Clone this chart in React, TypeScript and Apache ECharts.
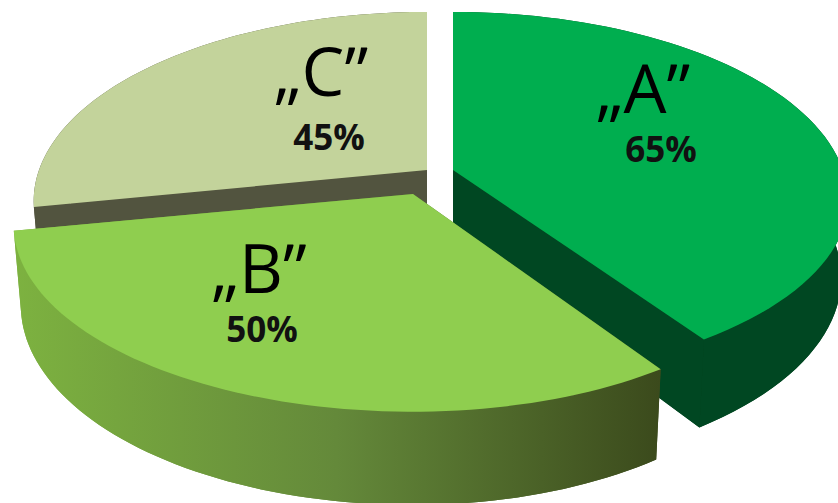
import React, { useEffect, useRef } from "react";
import * as echarts from "echarts";

const categories = ["„A”", "„B”", "„C”"];
const shareValues = [65, 50, 45];

// Styles and layout, per slice
const topColors = ["#00AE4F", "#8FCE4F", "#C3D39B"];
const wallColors: any[] = [
  "#004722",
  new echarts.graphic.LinearGradient(14, 0, 660, 0, [
    { offset: 0, color: "#7DB240" },
    { offset: 0.5, color: "#64893A" },
    { offset: 1, color: "#3B4A1C" },
  ], true),
  "#52543F",
];
const apexX = [453, 413, 427];
const apexY = [170, 194, 170];
const sliceZ = [20, 30, 10];
const rxLeft = [388, 394, 388];
const rxRight = [390, 385, 388];
const ryBack = [184, 184, 184];
const ryFront = [176, 182, 184];
const depths = [76, 78, 78];
const nameX = [643, 259, 321];
const nameY = [86, 266, 69];
const pctX = [661, 262, 329];
const pctY = [148, 328, 136];

const PERSPECTIVE = 0.164;
const BOTTOM_NARROW = 0.982;
const ARC_STEPS = 72;

const total = shareValues.reduce((a, b) => a + b, 0);

function project(i: number, deg: number, bottom: boolean): number[] {
  const rad = (deg * Math.PI) / 180;
  const u = Math.sin(rad);
  const v = -Math.cos(rad);
  const k = 1 / (1 - PERSPECTIVE * v);
  const rx = u < 0 ? rxLeft[i] : rxRight[i];
  const ry = v < 0 ? ryBack[i] : ryFront[i];
  return [
    apexX[i] + rx * u * k * (bottom ? BOTTOM_NARROW : 1),
    apexY[i] + ry * v * k + (bottom ? depths[i] * k : 0),
  ];
}

function arc(i: number, a0: number, a1: number, bottom: boolean): number[][] {
  const out: number[][] = [];
  for (let s = 0; s <= ARC_STEPS; s++) {
    out.push(project(i, a0 + ((a1 - a0) * s) / ARC_STEPS, bottom));
  }
  return out;
}

function renderSlice(params: any, api: any) {
  const i: number = params.dataIndex;
  let before = 0;
  for (let j = 0; j < i; j++) before += shareValues[j];
  const a0 = (before / total) * 360;
  const a1 = a0 + (Number(api.value(0)) / total) * 360;
  const z = sliceZ[i];

  const topArc = arc(i, a0, a1, false);
  const botArc = arc(i, a0, a1, true);
  const apexTop = [apexX[i], apexY[i]];
  const apexBot = [apexX[i], apexY[i] + depths[i]];
  const wall = wallColors[i];
  const poly = (points: number[][], fill: any, zz: number) => ({
    type: "polygon",
    z2: zz,
    shape: { points },
    style: { fill },
  });

  return {
    type: "group",
    children: [
      poly([apexBot, ...botArc], wall, z),
      poly([...topArc, ...botArc.slice().reverse()], wall, z),
      poly([apexTop, topArc[0], botArc[0], apexBot], wall, z),
      poly([apexTop, topArc[ARC_STEPS], botArc[ARC_STEPS], apexBot], wall, z),
      {
        type: "polygon",
        z2: z + 1,
        shape: { points: [apexTop, ...topArc] },
        style: { fill: topColors[i] },
      },
      {
        type: "text",
        z2: 100,
        style: {
          x: nameX[i],
          y: nameY[i],
          text: categories[i],
          fill: "#000000",
          font: '400 68px "Open Sans", sans-serif',
          textAlign: "center",
          textVerticalAlign: "middle",
        },
      },
      {
        type: "text",
        z2: 100,
        style: {
          x: pctX[i],
          y: pctY[i],
          text: `${shareValues[i]}%`,
          fill: "#111111",
          font: '700 35px "Open Sans", sans-serif',
          textAlign: "center",
          textVerticalAlign: "middle",
        },
      },
    ],
  };
}

export default function App() {
  const ref = useRef<HTMLDivElement>(null);
  useEffect(() => {
    const chart = echarts.init(ref.current!, undefined, { renderer: "svg" });
    chart.setOption({
      animation: false,
      backgroundColor: "#ffffff",
      series: [
        {
          type: "custom",
          coordinateSystem: "none",
          renderItem: renderSlice,
          data: shareValues.map((v, i) => ({ name: categories[i], value: [v] })),
          silent: true,
        },
      ],
    });
    return () => chart.dispose();
  }, []);
  return (
    <div
      ref={ref}
      style={{ position: "fixed", left: 0, top: 0, width: 838, height: 503 }}
    />
  );
}
